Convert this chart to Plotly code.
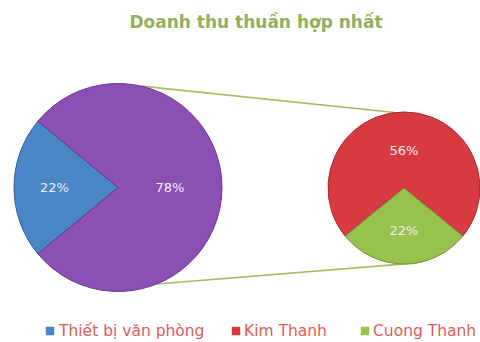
import math
import plotly.graph_objects as go

# Consolidated net revenue: main pie (office equipment vs. the two subsidiaries)
main_labels = ["Thiết bị văn phòng", "Kim Thanh + Cuong Thanh"]
main_values = [22, 78]
main_colors = ["#4a86c6", "#8c4fb4"]
main_edges = ["#2f5f96", "#6a3590"]

# Breakdown of the grouped slice
sub_labels = ["Kim Thanh", "Cuong Thanh"]
sub_values = [56, 22]
sub_colors = ["#d83a42", "#98c24e"]
sub_edges = ["#a8262c", "#6f9432"]

legend_labels = ["Thiết bị văn phòng", "Kim Thanh", "Cuong Thanh"]
legend_colors = ["#4a86c6", "#d83a42", "#98c24e"]

W, H = 480, 342
FONT = "DejaVu Sans"


def px(x):
    return x / W


def py(y):
    return 1 - y / H


# pie geometry in pixels (centre and radius)
L_CX, L_CY, L_R = 118, 187.5, 104
R_CX, R_CY, R_R = 404, 188, 76

fig = go.Figure()

# main pie: the office-equipment slice sits on the left (9 o'clock)
main_share = main_values[0] / sum(main_values) * 360
fig.add_trace(go.Pie(
    labels=main_labels, values=main_values, sort=False,
    direction="clockwise", rotation=270 - main_share / 2,
    marker=dict(colors=main_colors, line=dict(color=main_edges, width=1)),
    texttemplate="%{value}%", textposition="inside",
    insidetextorientation="horizontal",
    textfont=dict(family=FONT, size=13, color="#f3edf5"),
    domain=dict(x=[px(L_CX - L_R), px(L_CX + L_R)],
                y=[py(L_CY + L_R), py(L_CY - L_R)]),
    showlegend=False, hoverinfo="label+value",
))

# secondary pie: the Cuong Thanh slice is centred at 6 o'clock
green_share = sub_values[1] / sum(sub_values) * 360
fig.add_trace(go.Pie(
    labels=sub_labels, values=sub_values, sort=False,
    direction="clockwise", rotation=180 + green_share / 2,
    marker=dict(colors=sub_colors, line=dict(color=sub_edges, width=1)),
    texttemplate="%{value}%", textposition="inside",
    insidetextorientation="horizontal",
    textfont=dict(family=FONT, size=13, color="#f3edf5"),
    domain=dict(x=[px(R_CX - R_R), min(1, px(R_CX + R_R))],
                y=[py(R_CY + R_R), py(R_CY - R_R)]),
    showlegend=False, hoverinfo="label+value",
))


def on_circle(cx, cy, r, deg):
    a = math.radians(deg)
    return cx + r * math.cos(a), cy - r * math.sin(a)


# connector lines between the two pies
shapes = []
for a_left, a_right in [(77, 97), (-68, -80)]:
    x0, y0 = on_circle(L_CX, L_CY, L_R, a_left)
    x1, y1 = on_circle(R_CX, R_CY, R_R, a_right)
    shapes.append(dict(type="line", xref="paper", yref="paper",
                       x0=px(x0), y0=py(y0), x1=px(x1), y1=py(y1),
                       line=dict(color="#a9bb62", width=1.6), layer="below"))

# legend row along the bottom
annotations = []
legend_x = [46, 232, 361]
LEG_Y = 331
for name, col, x in zip(legend_labels, legend_colors, legend_x):
    shapes.append(dict(type="rect", xref="paper", yref="paper",
                       x0=px(x), x1=px(x + 8), y0=py(LEG_Y + 4), y1=py(LEG_Y - 4),
                       fillcolor=col, line=dict(color=col, width=0.5)))
    annotations.append(dict(text=name, xref="paper", yref="paper",
                            x=px(x + 10), y=py(LEG_Y), xanchor="left", yanchor="middle",
                            showarrow=False,
                            font=dict(family=FONT, size=15.5, color="#de5c5c")))

fig.update_layout(
    width=W, height=H,
    margin=dict(l=0, r=0, t=0, b=0),
    paper_bgcolor="white", plot_bgcolor="white",
    title=dict(text="Doanh thu thuần hợp nhất", x=px(256), y=py(22),
               xanchor="center", yanchor="middle", xref="paper", yref="paper",
               font=dict(family=FONT, size=17, weight="bold", color="#96ae5c")),
    shapes=shapes, annotations=annotations,
)

fig.write_html("out.html")
